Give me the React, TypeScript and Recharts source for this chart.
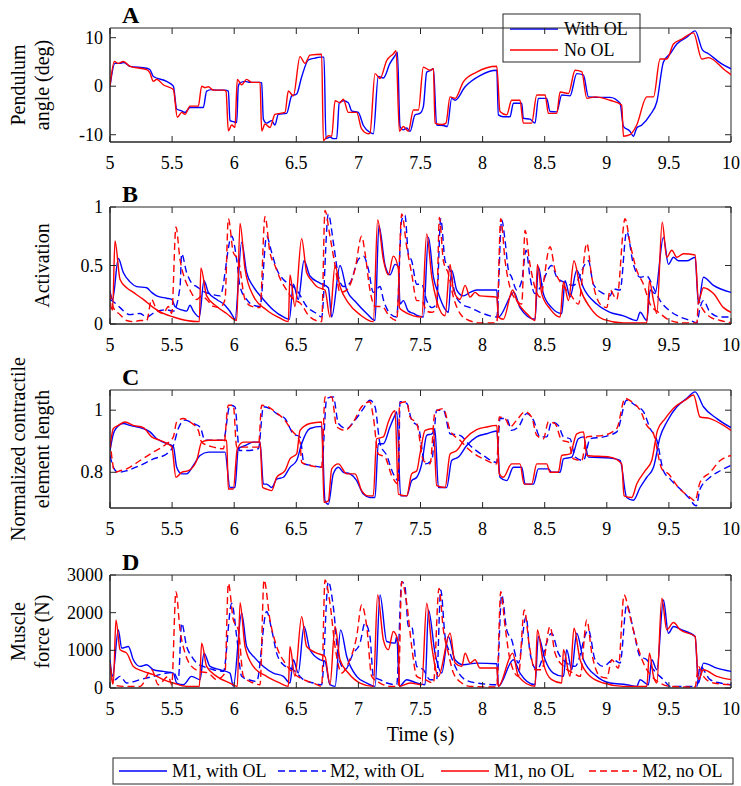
import { LineChart, Line, XAxis, YAxis, ReferenceArea, Customized } from "recharts";

// time is in seconds; every panel shares the 5..10 s window
const timeTicks = [5, 5.5, 6, 6.5, 7, 7.5, 8, 8.5, 9, 9.5, 10];
const angleTicks = [-10, 0, 10];
const actTicks = [0, 0.5, 1];
const lenTicks = [0.8, 1];
const forceTicks = [0, 1000, 2000, 3000];

// A: pendulum angle (deg)
const angleWithOL = [
  [5.0, 0], [5.04, 4.7], [5.081, 4.7], [5.113, 4.9], [5.161, 4.1], [5.295, 3.7], [5.322, 3.4], [5.349, 2.0], [5.456, 1.0], [5.51, 0],
  [5.537, -4.7], [5.577, -5.1], [5.604, -5.4], [5.644, -4.4], [5.751, -4.4], [5.778, -1.0], [5.819, -0.7], [5.859, -0.8], [5.926, -0.8], [5.953, -1.0],
  [5.966, -7.1], [5.993, -7.3], [6.02, -7.5], [6.033, 0], [6.047, 0.7], [6.087, 1.0], [6.127, 0.8], [6.208, 0.8], [6.221, 0.7], [6.235, -6.8],
  [6.261, -7.6], [6.302, -7.1], [6.328, -8.0], [6.355, -5.8], [6.422, -5.6], [6.463, -2.0], [6.503, -1.6], [6.543, 1.9], [6.597, 5.4], [6.651, 5.8],
  [6.691, 6.0], [6.723, 6.0], [6.739, -10.8], [6.771, -10.5], [6.798, -10.8], [6.825, -10.8], [6.846, -3.4], [6.879, -3.0], [6.919, -3.4], [6.946, -5.1],
  [6.999, -5.4], [7.04, -8.1], [7.093, -9.5], [7.12, -9.8], [7.16, 2.0], [7.201, 1.7], [7.254, 4.7], [7.295, 6.3], [7.314, 7.0], [7.335, -8.3],
  [7.362, -9.0], [7.389, -8.6], [7.416, -9.3], [7.456, -5.9], [7.496, -5.6], [7.523, -4.2], [7.55, 2.9], [7.577, 3.2], [7.604, 3.6], [7.63, -8.0],
  [7.684, -8.1], [7.716, -8.3], [7.751, -2.5], [7.778, -2.9], [7.859, -0.1], [7.979, 2.2], [8.114, 3.3], [8.127, -5.9], [8.167, -6.3], [8.221, -6.3],
  [8.248, -3.5], [8.315, -3.5], [8.328, -6.6], [8.382, -6.8], [8.422, -7.6], [8.449, -2.5], [8.516, -2.5], [8.543, -5.2], [8.597, -5.3], [8.637, -1.8],
  [8.704, -2.0], [8.758, 2.6], [8.812, 2.3], [8.852, -2.2], [8.919, -2.3], [9.026, -2.3], [9.107, -3.5], [9.134, -8.3], [9.187, -9.3], [9.214, -10.3],
  [9.241, -8.6], [9.282, -8.0], [9.349, -5.9], [9.403, -3.2], [9.456, 5.0], [9.51, 6.7], [9.564, 8.7], [9.644, 10.1], [9.711, 11.4], [9.77, 7.5],
  [9.818, 6.7], [9.925, 4.6], [10, 3.6],
];
const angleNoOL = [
  [5.0, 0], [5.035, 5.1], [5.067, 4.7], [5.107, 5.1], [5.161, 4.1], [5.295, 3.4], [5.322, 2.7], [5.349, 1.0], [5.376, 1.4], [5.429, 0.3],
  [5.51, -0.7], [5.542, -6.4], [5.577, -5.4], [5.604, -5.8], [5.644, -4.1], [5.711, -4.1], [5.738, 0], [5.765, -0.3], [5.792, -0.1], [5.832, -0.8],
  [5.913, -0.8], [5.934, -1.0], [5.953, -9.2], [5.98, -8.0], [6.006, -8.5], [6.025, 1.4], [6.06, 0.3], [6.1, 1.4], [6.141, 0.8], [6.208, 0.8],
  [6.221, -9.2], [6.248, -7.8], [6.288, -8.5], [6.328, -5.8], [6.409, -5.4], [6.436, -1.0], [6.476, -2.0], [6.53, 6.1], [6.57, 4.7], [6.61, 6.4],
  [6.704, 6.6], [6.718, -11.2], [6.758, -10.2], [6.785, -10.3], [6.812, -3.0], [6.852, -3.4], [6.879, -2.7], [6.919, -5.4], [6.986, -5.4], [7.026, -8.8],
  [7.08, -9.8], [7.093, -9.7], [7.134, 2.6], [7.174, 1.6], [7.228, 5.3], [7.282, 6.7], [7.303, 7.3], [7.33, -9.3], [7.362, -8.3], [7.402, -9.3],
  [7.443, -4.9], [7.483, -4.9], [7.523, 3.9], [7.577, 3.3], [7.604, 3.6], [7.617, -7.6], [7.671, -7.9], [7.705, -7.6], [7.738, -2.2], [7.778, -2.5],
  [7.845, 0.9], [7.952, 2.9], [8.114, 4.1], [8.14, -5.2], [8.194, -5.9], [8.234, -2.9], [8.301, -2.9], [8.328, -7.6], [8.395, -7.6], [8.436, -1.8],
  [8.503, -1.8], [8.53, -5.6], [8.597, -5.6], [8.624, -1.2], [8.691, -1.5], [8.745, 3.3], [8.798, 3.0], [8.839, -2.5], [8.906, -2.2], [9.026, -2.9],
  [9.12, -3.9], [9.134, -10.3], [9.187, -10.0], [9.241, -8.0], [9.322, -2.2], [9.376, -2.2], [9.429, 5.6], [9.483, 5.6], [9.537, 8.7], [9.604, 9.7],
  [9.698, 11.0], [9.765, 5.6], [9.818, 5.9], [9.952, 3.3], [10, 2.4],
];

// B: activation
const actM1WithOL = [
  [5.0, 0.28], [5.021, 0.21], [5.067, 0.56], [5.107, 0.44], [5.161, 0.36], [5.215, 0.32], [5.295, 0.31], [5.335, 0.27], [5.376, 0.24], [5.456, 0.22],
  [5.497, 0.21], [5.523, 0.15], [5.577, 0.12], [5.617, 0.11], [5.644, 0.16], [5.671, 0.11], [5.719, 0.06], [5.757, 0.37], [5.792, 0.27], [5.859, 0.21],
  [5.926, 0.16], [5.993, 0.06], [6.006, 0.03], [6.06, 0.7], [6.1, 0.44], [6.154, 0.32], [6.235, 0.21], [6.315, 0.12], [6.396, 0.06], [6.444, 0.04],
  [6.476, 0.34], [6.516, 0.21], [6.562, 0.54], [6.61, 0.41], [6.691, 0.35], [6.758, 0.31], [6.785, 0.06], [6.852, 0.5], [6.906, 0.29], [6.986, 0.18],
  [7.067, 0.09], [7.134, 0.03], [7.165, 0.84], [7.215, 0.5], [7.255, 0.42], [7.295, 0.51], [7.322, 0.49], [7.335, 0.17], [7.362, 0.2], [7.402, 0.11],
  [7.443, 0.09], [7.483, 0.07], [7.523, 0.06], [7.564, 0.74], [7.604, 0.4], [7.644, 0.26], [7.69, 0.14], [7.724, 0.1], [7.751, 0.46], [7.792, 0.29],
  [7.845, 0.24], [7.899, 0.27], [7.952, 0.29], [8.114, 0.29], [8.127, 0.06], [8.253, 0.27], [8.301, 0.14], [8.422, 0.04], [8.449, 0.49], [8.489, 0.26],
  [8.556, 0.14], [8.637, 0.09], [8.664, 0.37], [8.704, 0.23], [8.758, 0.46], [8.812, 0.31], [8.919, 0.17], [9.026, 0.1], [9.134, 0.07], [9.241, 0.03],
  [9.268, 0.1], [9.322, 0.03], [9.349, 0.29], [9.389, 0.26], [9.456, 0.74], [9.496, 0.51], [9.537, 0.57], [9.577, 0.54], [9.644, 0.54], [9.711, 0.57],
  [9.738, 0.17], [9.778, 0.4], [9.859, 0.33], [10, 0.27],
];
const actM2WithOL = [
  [5.0, 0.21], [5.04, 0.18], [5.081, 0.14], [5.161, 0.08], [5.242, 0.09], [5.295, 0.06], [5.376, 0.11], [5.456, 0.12], [5.51, 0.11], [5.564, 0.32],
  [5.577, 0.6], [5.617, 0.44], [5.657, 0.35], [5.698, 0.32], [5.751, 0.28], [5.832, 0.25], [5.886, 0.24], [5.98, 0.75], [6.02, 0.55], [6.047, 0.32],
  [6.1, 0.21], [6.154, 0.16], [6.208, 0.15], [6.261, 0.75], [6.302, 0.61], [6.342, 0.47], [6.396, 0.38], [6.476, 0.32], [6.516, 0.27], [6.583, 0.15],
  [6.664, 0.09], [6.704, 0.06], [6.758, 0.94], [6.798, 0.7], [6.839, 0.41], [6.879, 0.32], [6.932, 0.35], [6.999, 0.55], [7.04, 0.58], [7.08, 0.47],
  [7.12, 0.27], [7.174, 0.32], [7.201, 0.21], [7.254, 0.09], [7.308, 0.06], [7.349, 0.89], [7.375, 0.93], [7.402, 0.6], [7.429, 0.54], [7.47, 0.34],
  [7.51, 0.34], [7.55, 0.2], [7.591, 0.14], [7.63, 0.17], [7.663, 0.9], [7.698, 0.54], [7.738, 0.46], [7.778, 0.26], [7.832, 0.17], [7.899, 0.14],
  [7.979, 0.1], [8.06, 0.07], [8.114, 0.06], [8.154, 0.89], [8.181, 0.71], [8.208, 0.46], [8.234, 0.4], [8.275, 0.29], [8.315, 0.37], [8.35, 0.63],
  [8.382, 0.4], [8.422, 0.26], [8.463, 0.31], [8.556, 0.5], [8.597, 0.4], [8.651, 0.36], [8.731, 0.33], [8.852, 0.54], [8.892, 0.34], [8.973, 0.26],
  [9.026, 0.24], [9.053, 0.3], [9.107, 0.29], [9.16, 0.79], [9.214, 0.51], [9.268, 0.4], [9.322, 0.41], [9.376, 0.31], [9.429, 0.2], [9.51, 0.11],
  [9.591, 0.06], [9.671, 0.03], [9.725, 0.01], [9.751, 0.14], [9.778, 0.2], [9.832, 0.1], [9.913, 0.06], [10, 0.06],
];
const actM1NoOL = [
  [5.0, 0.18], [5.021, 0.12], [5.04, 0.71], [5.081, 0.38], [5.134, 0.31], [5.188, 0.27], [5.268, 0.21], [5.349, 0.14], [5.429, 0.09], [5.51, 0.06],
  [5.617, 0.03], [5.719, 0.02], [5.732, 0.48], [5.778, 0.24], [5.859, 0.15], [5.939, 0.09], [6.02, 0.03], [6.047, 0.86], [6.087, 0.47], [6.154, 0.24],
  [6.261, 0.12], [6.369, 0.05], [6.436, 0.02], [6.449, 0.42], [6.489, 0.15], [6.543, 0.73], [6.583, 0.44], [6.624, 0.37], [6.664, 0.32], [6.731, 0.29],
  [6.771, 0.06], [6.812, 0.5], [6.852, 0.32], [6.919, 0.18], [7.013, 0.08], [7.12, 0.02], [7.155, 0.89], [7.201, 0.55], [7.241, 0.42], [7.281, 0.58],
  [7.322, 0.47], [7.33, 0.14], [7.362, 0.11], [7.443, 0.07], [7.51, 0.06], [7.55, 0.77], [7.591, 0.4], [7.63, 0.2], [7.698, 0.07], [7.738, 0.51],
  [7.765, 0.29], [7.818, 0.21], [7.859, 0.33], [7.899, 0.23], [7.939, 0.27], [7.979, 0.24], [8.114, 0.23], [8.127, 0.06], [8.167, 0.04], [8.242, 0.29],
  [8.275, 0.2], [8.355, 0.09], [8.422, 0.03], [8.441, 0.51], [8.476, 0.26], [8.543, 0.13], [8.624, 0.06], [8.651, 0.36], [8.691, 0.2], [8.736, 0.54],
  [8.785, 0.31], [8.866, 0.14], [8.973, 0.04], [9.134, 0.01], [9.322, 0.01], [9.343, 0.37], [9.376, 0.2], [9.403, 0.09], [9.446, 0.87], [9.483, 0.57],
  [9.523, 0.63], [9.564, 0.57], [9.617, 0.6], [9.711, 0.59], [9.738, 0.2], [9.778, 0.31], [9.859, 0.26], [9.94, 0.14], [10, 0.1],
];
const actM2NoOL = [
  [5.0, 0.27], [5.027, 0.14], [5.081, 0.08], [5.134, 0.03], [5.188, 0.02], [5.242, 0.03], [5.295, 0.03], [5.335, 0.21], [5.376, 0.12], [5.429, 0.09],
  [5.47, 0.15], [5.497, 0.09], [5.531, 0.83], [5.564, 0.55], [5.604, 0.38], [5.644, 0.29], [5.698, 0.21], [5.738, 0.24], [5.778, 0.21], [5.832, 0.15],
  [5.886, 0.14], [5.926, 0.21], [5.953, 0.9], [5.993, 0.61], [6.033, 0.55], [6.087, 0.21], [6.141, 0.15], [6.208, 0.14], [6.248, 0.92], [6.288, 0.61],
  [6.328, 0.5], [6.369, 0.39], [6.422, 0.29], [6.476, 0.21], [6.53, 0.18], [6.61, 0.06], [6.704, 0.02], [6.731, 0.97], [6.771, 0.75], [6.812, 0.5],
  [6.852, 0.27], [6.906, 0.29], [6.973, 0.47], [7.026, 0.75], [7.053, 0.61], [7.093, 0.29], [7.134, 0.15], [7.188, 0.15], [7.254, 0.06], [7.308, 0.03],
  [7.349, 0.94], [7.389, 0.66], [7.429, 0.43], [7.47, 0.2], [7.51, 0.2], [7.55, 0.11], [7.591, 0.1], [7.63, 0.14], [7.652, 0.91], [7.684, 0.54],
  [7.724, 0.43], [7.765, 0.23], [7.818, 0.09], [7.872, 0.04], [7.979, 0.01], [8.114, 0.01], [8.146, 0.9], [8.181, 0.54], [8.221, 0.31], [8.275, 0.2],
  [8.315, 0.17], [8.342, 0.8], [8.377, 0.54], [8.422, 0.31], [8.463, 0.23], [8.543, 0.66], [8.583, 0.46], [8.637, 0.34], [8.704, 0.26], [8.771, 0.17],
  [8.839, 0.69], [8.879, 0.4], [8.946, 0.17], [9.0, 0.14], [9.026, 0.29], [9.08, 0.21], [9.147, 0.9], [9.187, 0.69], [9.241, 0.46], [9.295, 0.34],
  [9.349, 0.17], [9.429, 0.09], [9.51, 0.03], [9.617, 0.01], [9.725, 0.01], [9.738, 0.2], [9.765, 0.14], [9.832, 0.06], [9.913, 0.03], [10, 0.01],
];

// C: normalized contractile element length
const lenM1WithOL = [
  [5.0, 0.87], [5.027, 0.924], [5.054, 0.944], [5.107, 0.957], [5.161, 0.951], [5.242, 0.944], [5.322, 0.93], [5.376, 0.908], [5.429, 0.897], [5.51, 0.883],
  [5.537, 0.816], [5.577, 0.795], [5.617, 0.795], [5.671, 0.822], [5.725, 0.854], [5.792, 0.865], [5.926, 0.865], [5.966, 0.751], [6.006, 0.751], [6.033, 0.876],
  [6.087, 0.886], [6.154, 0.897], [6.208, 0.897], [6.235, 0.762], [6.261, 0.762], [6.302, 0.751], [6.342, 0.778], [6.396, 0.784], [6.449, 0.816], [6.503, 0.838],
  [6.543, 0.892], [6.61, 0.941], [6.704, 0.948], [6.731, 0.708], [6.758, 0.697], [6.798, 0.795], [6.839, 0.816], [6.879, 0.8], [6.932, 0.795], [6.986, 0.773],
  [7.04, 0.73], [7.093, 0.719], [7.134, 0.719], [7.16, 0.892], [7.201, 0.892], [7.254, 0.946], [7.295, 0.984], [7.309, 0.995], [7.34, 0.724], [7.389, 0.724],
  [7.429, 0.773], [7.47, 0.784], [7.51, 0.827], [7.55, 0.919], [7.591, 0.924], [7.617, 0.935], [7.644, 0.751], [7.711, 0.751], [7.751, 0.838], [7.805, 0.849],
  [7.872, 0.886], [7.952, 0.914], [8.033, 0.924], [8.114, 0.933], [8.14, 0.784], [8.194, 0.773], [8.248, 0.816], [8.315, 0.816], [8.342, 0.762], [8.409, 0.762],
  [8.449, 0.811], [8.53, 0.811], [8.556, 0.8], [8.624, 0.8], [8.651, 0.843], [8.718, 0.849], [8.771, 0.908], [8.812, 0.914], [8.852, 0.849], [9.026, 0.846],
  [9.107, 0.838], [9.16, 0.719], [9.214, 0.71], [9.268, 0.751], [9.322, 0.784], [9.376, 0.816], [9.429, 0.914], [9.483, 0.962], [9.564, 1.011], [9.644, 1.038],
  [9.711, 1.059], [9.778, 1.011], [9.886, 0.973], [10, 0.944],
];
const lenM2WithOL = [
  [5.0, 0.854], [5.027, 0.816], [5.067, 0.8], [5.134, 0.805], [5.242, 0.822], [5.349, 0.843], [5.456, 0.859], [5.51, 0.886], [5.55, 0.941], [5.604, 0.968],
  [5.671, 0.957], [5.725, 0.946], [5.765, 0.903], [5.832, 0.903], [5.913, 0.903], [5.966, 1.016], [6.006, 1.011], [6.042, 0.87], [6.1, 0.87], [6.195, 0.876],
  [6.235, 1.011], [6.288, 1.005], [6.342, 0.989], [6.409, 0.973], [6.476, 0.924], [6.53, 0.914], [6.562, 0.827], [6.624, 0.822], [6.704, 0.816], [6.745, 1.038],
  [6.798, 1.043], [6.839, 0.957], [6.906, 0.941], [6.973, 0.968], [7.04, 1.005], [7.093, 1.032], [7.134, 1.011], [7.174, 0.892], [7.228, 0.854], [7.281, 0.795],
  [7.322, 0.773], [7.335, 1.027], [7.389, 1.022], [7.429, 0.968], [7.483, 0.946], [7.537, 0.827], [7.591, 0.838], [7.63, 1.0], [7.684, 1.0], [7.738, 0.924],
  [7.818, 0.919], [7.899, 0.886], [8.006, 0.854], [8.114, 0.832], [8.14, 0.973], [8.194, 0.973], [8.234, 0.935], [8.288, 0.946], [8.355, 0.989], [8.409, 0.968],
  [8.463, 0.914], [8.516, 0.914], [8.556, 0.962], [8.61, 0.951], [8.651, 0.914], [8.704, 0.908], [8.745, 0.849], [8.812, 0.838], [8.866, 0.908], [8.973, 0.914],
  [9.08, 0.93], [9.16, 1.032], [9.228, 1.016], [9.295, 0.995], [9.349, 0.941], [9.403, 0.903], [9.456, 0.805], [9.51, 0.778], [9.591, 0.746], [9.658, 0.719],
  [9.72, 0.692], [9.751, 0.746], [9.832, 0.784], [9.913, 0.805], [10, 0.822],
];
const lenM1NoOL = [
  [5.0, 0.881], [5.027, 0.941], [5.067, 0.951], [5.121, 0.962], [5.188, 0.951], [5.268, 0.944], [5.335, 0.914], [5.403, 0.903], [5.497, 0.883], [5.531, 0.784],
  [5.577, 0.8], [5.631, 0.805], [5.698, 0.838], [5.738, 0.897], [5.792, 0.903], [5.939, 0.903], [5.953, 0.746], [5.993, 0.746], [6.025, 0.876], [6.074, 0.897],
  [6.208, 0.897], [6.229, 0.751], [6.261, 0.746], [6.302, 0.741], [6.342, 0.784], [6.409, 0.805], [6.449, 0.843], [6.503, 0.859], [6.53, 0.935], [6.61, 0.957],
  [6.704, 0.962], [6.723, 0.703], [6.758, 0.708], [6.785, 0.811], [6.839, 0.827], [6.906, 0.795], [6.973, 0.795], [7.026, 0.741], [7.08, 0.724], [7.12, 0.724],
  [7.147, 0.908], [7.201, 0.914], [7.241, 0.962], [7.281, 0.995], [7.295, 0.998], [7.322, 0.73], [7.389, 0.724], [7.429, 0.795], [7.47, 0.805], [7.496, 0.859],
  [7.537, 0.935], [7.604, 0.941], [7.63, 0.757], [7.698, 0.751], [7.738, 0.859], [7.792, 0.87], [7.859, 0.908], [7.952, 0.937], [8.033, 0.946], [8.114, 0.951],
  [8.134, 0.795], [8.167, 0.784], [8.234, 0.827], [8.301, 0.827], [8.334, 0.762], [8.395, 0.762], [8.436, 0.827], [8.516, 0.827], [8.543, 0.8], [8.61, 0.8],
  [8.637, 0.854], [8.704, 0.859], [8.758, 0.924], [8.812, 0.93], [8.839, 0.854], [9.026, 0.849], [9.12, 0.827], [9.139, 0.724], [9.201, 0.719], [9.241, 0.762],
  [9.309, 0.805], [9.362, 0.838], [9.408, 0.935], [9.47, 0.973], [9.55, 1.011], [9.631, 1.032], [9.698, 1.049], [9.751, 0.978], [9.832, 0.973], [9.94, 0.951],
  [10, 0.935],
];
const lenM2NoOL = [
  [5.0, 0.903], [5.04, 0.8], [5.081, 0.805], [5.134, 0.811], [5.242, 0.838], [5.349, 0.865], [5.456, 0.892], [5.51, 0.914], [5.537, 0.962], [5.59, 0.973],
  [5.644, 0.962], [5.711, 0.935], [5.738, 0.897], [5.832, 0.881], [5.913, 0.876], [5.953, 1.016], [5.993, 1.016], [6.02, 0.881], [6.1, 0.881], [6.195, 0.881],
  [6.221, 1.016], [6.275, 1.011], [6.328, 0.995], [6.396, 0.973], [6.463, 0.935], [6.53, 0.897], [6.543, 0.832], [6.61, 0.822], [6.704, 0.816], [6.731, 1.043],
  [6.785, 1.043], [6.825, 0.946], [6.892, 0.935], [6.959, 0.962], [7.026, 1.011], [7.093, 1.027], [7.12, 0.978], [7.16, 0.859], [7.214, 0.849], [7.268, 0.789],
  [7.322, 0.762], [7.33, 1.022], [7.389, 1.027], [7.416, 0.978], [7.47, 0.957], [7.523, 0.838], [7.577, 0.827], [7.617, 0.995], [7.684, 1.005], [7.738, 0.935],
  [7.818, 0.903], [7.899, 0.87], [8.006, 0.843], [8.114, 0.827], [8.134, 0.978], [8.181, 0.973], [8.221, 0.946], [8.275, 0.968], [8.342, 0.995], [8.395, 0.978],
  [8.436, 0.919], [8.489, 0.908], [8.53, 0.962], [8.583, 0.957], [8.637, 0.903], [8.691, 0.897], [8.731, 0.843], [8.798, 0.838], [8.839, 0.914], [8.973, 0.919],
  [9.08, 0.941], [9.147, 1.038], [9.201, 1.027], [9.268, 1.0], [9.322, 0.951], [9.376, 0.924], [9.443, 0.811], [9.496, 0.795], [9.577, 0.751], [9.671, 0.719],
  [9.711, 0.708], [9.751, 0.768], [9.832, 0.8], [9.913, 0.838], [10, 0.854],
];

// D: muscle force (N)
const forceM1WithOL = [
  [5.0, 750], [5.021, 309], [5.067, 1544], [5.094, 1058], [5.148, 1103], [5.188, 750], [5.242, 573], [5.295, 617], [5.349, 485], [5.429, 441],
  [5.51, 397], [5.537, 132], [5.59, 88], [5.657, 309], [5.725, 221], [5.757, 926], [5.805, 573], [5.886, 485], [5.966, 397], [5.993, 44],
  [6.06, 1985], [6.1, 1103], [6.168, 794], [6.235, 573], [6.315, 397], [6.396, 309], [6.449, 132], [6.476, 750], [6.516, 397], [6.562, 1632],
  [6.61, 1014], [6.691, 750], [6.731, 706], [6.771, 88], [6.812, 44], [6.857, 1544], [6.906, 838], [6.986, 309], [7.067, 132], [7.134, 44],
  [7.174, 2470], [7.228, 1235], [7.295, 1191], [7.309, 1367], [7.33, 44], [7.389, 221], [7.47, 132], [7.537, 88], [7.564, 2073], [7.617, 926],
  [7.671, 397], [7.724, 1367], [7.778, 750], [7.845, 617], [7.952, 661], [8.114, 644], [8.127, 44], [8.248, 750], [8.301, 397], [8.422, 88],
  [8.449, 1367], [8.503, 750], [8.57, 397], [8.651, 309], [8.677, 1014], [8.718, 485], [8.758, 1455], [8.812, 750], [8.919, 309], [9.026, 132],
  [9.16, 88], [9.241, 44], [9.268, 221], [9.335, 88], [9.362, 750], [9.403, 485], [9.456, 2337], [9.496, 1455], [9.537, 1632], [9.604, 1544],
  [9.711, 1367], [9.738, 132], [9.778, 661], [9.886, 529], [10, 441],
];
const forceM2WithOL = [
  [5.0, 485], [5.04, 221], [5.081, 309], [5.134, 132], [5.242, 221], [5.349, 309], [5.456, 397], [5.51, 415], [5.55, 221], [5.577, 1720],
  [5.617, 1103], [5.657, 838], [5.698, 662], [5.751, 573], [5.832, 485], [5.913, 441], [5.98, 2249], [6.02, 1367], [6.06, 309], [6.114, 221],
  [6.181, 176], [6.261, 2029], [6.302, 1544], [6.342, 926], [6.396, 617], [6.476, 485], [6.557, 221], [6.637, 132], [6.704, 88], [6.758, 2823],
  [6.798, 2161], [6.839, 838], [6.892, 485], [6.959, 926], [7.013, 1191], [7.053, 1720], [7.093, 1367], [7.12, 309], [7.174, 221], [7.228, 132],
  [7.308, 88], [7.349, 2823], [7.375, 2690], [7.402, 1632], [7.429, 1632], [7.47, 573], [7.523, 485], [7.577, 221], [7.63, 221], [7.663, 2602],
  [7.698, 1367], [7.738, 926], [7.792, 485], [7.859, 221], [7.952, 132], [8.114, 88], [8.154, 2470], [8.194, 1544], [8.234, 1279], [8.288, 662],
  [8.35, 1896], [8.382, 926], [8.436, 485], [8.556, 1455], [8.61, 926], [8.677, 662], [8.745, 573], [8.852, 1544], [8.906, 750], [8.973, 573],
  [9.053, 750], [9.107, 662], [9.16, 2205], [9.214, 1544], [9.268, 838], [9.322, 750], [9.376, 485], [9.456, 221], [9.51, 44], [9.725, 44],
  [9.751, 573], [9.832, 221], [9.913, 132], [10, 88],
];
const forceM1NoOL = [
  [5.0, 662], [5.027, 132], [5.048, 1808], [5.081, 1014], [5.134, 926], [5.188, 573], [5.268, 441], [5.349, 353], [5.429, 221], [5.51, 132],
  [5.617, 44], [5.719, 44], [5.738, 1191], [5.778, 573], [5.859, 309], [5.966, 132], [6.025, 44], [6.047, 2267], [6.087, 1103], [6.154, 573],
  [6.261, 309], [6.369, 132], [6.436, 44], [6.449, 1103], [6.489, 309], [6.543, 1896], [6.583, 1103], [6.664, 926], [6.731, 838], [6.771, 88],
  [6.812, 1632], [6.852, 750], [6.919, 397], [7.013, 132], [7.12, 44], [7.155, 2470], [7.201, 1279], [7.241, 1014], [7.281, 1499], [7.322, 1191],
  [7.33, 44], [7.416, 132], [7.51, 88], [7.55, 2249], [7.591, 1103], [7.644, 309], [7.738, 1455], [7.778, 662], [7.832, 573], [7.859, 926],
  [7.899, 662], [7.939, 750], [7.979, 529], [8.114, 529], [8.127, 44], [8.242, 926], [8.288, 309], [8.422, 44], [8.441, 1544], [8.489, 662],
  [8.556, 221], [8.637, 132], [8.651, 1014], [8.704, 309], [8.736, 1588], [8.785, 750], [8.866, 309], [8.973, 132], [9.134, 44], [9.322, 44],
  [9.343, 926], [9.376, 309], [9.403, 132], [9.443, 2381], [9.483, 1544], [9.537, 1738], [9.591, 1544], [9.711, 1367], [9.738, 221], [9.778, 485],
  [9.886, 309], [10, 221],
];
const forceM2NoOL = [
  [5.0, 573], [5.027, 88], [5.107, 44], [5.242, 44], [5.335, 485], [5.389, 88], [5.47, 309], [5.497, 88], [5.531, 2558], [5.564, 1544],
  [5.604, 926], [5.657, 573], [5.725, 441], [5.792, 397], [5.859, 221], [5.926, 397], [5.953, 2778], [5.993, 1808], [6.033, 1544], [6.074, 309],
  [6.154, 132], [6.208, 88], [6.24, 2866], [6.288, 1808], [6.342, 1103], [6.409, 662], [6.476, 397], [6.557, 221], [6.637, 132], [6.704, 44],
  [6.731, 2866], [6.771, 2249], [6.812, 1103], [6.865, 397], [6.919, 662], [6.986, 1367], [7.026, 2205], [7.067, 1632], [7.107, 309], [7.174, 132],
  [7.254, 44], [7.322, 44], [7.349, 2823], [7.389, 2249], [7.429, 1103], [7.47, 309], [7.537, 221], [7.604, 132], [7.649, 2646], [7.684, 1544],
  [7.724, 926], [7.765, 397], [7.832, 132], [7.899, 44], [8.114, 26], [8.146, 2558], [8.181, 1632], [8.221, 750], [8.288, 309], [8.336, 2073],
  [8.377, 1103], [8.422, 485], [8.476, 485], [8.543, 1632], [8.583, 926], [8.651, 573], [8.731, 397], [8.785, 309], [8.839, 1808], [8.879, 926],
  [8.946, 309], [9.0, 265], [9.04, 750], [9.093, 529], [9.139, 2470], [9.187, 1896], [9.241, 1191], [9.295, 662], [9.362, 309], [9.429, 132],
  [9.51, 44], [9.711, 26], [9.738, 573], [9.778, 309], [9.859, 132], [10, 88],
];

const BLUE = "#0000ff";
const RED = "#ff0000";
const AXIS = "#262626";
const SERIF = "'Liberation Serif', 'Times New Roman', Times, serif";
const W = 741;
const H = 786;
const PLOT_L = 110;
const PLOT_R = 731;
const DASH = "7 4";
const txt = { fontFamily: SERIF } as const;

const pts = (a: number[][]) => a.map(([t, v]) => ({ t, v }));

type Series = { data: number[][]; color: string; dashed?: boolean };

function XTick({ x, y, payload, plotTop }: any) {
  return (
    <g>
      <line x1={x} x2={x} y1={y} y2={y - 6} stroke={AXIS} />
      <line x1={x} x2={x} y1={plotTop} y2={plotTop + 6} stroke={AXIS} />
      <text x={x} y={y + 27} textAnchor="middle" fontSize={18} style={txt} fill="#000">
        {payload.value}
      </text>
    </g>
  );
}

function YTick({ x, y, payload }: any) {
  return (
    <g>
      <line x1={x} x2={x + 6} y1={y} y2={y} stroke={AXIS} />
      <line x1={PLOT_R - 6} x2={PLOT_R} y1={y} y2={y} stroke={AXIS} />
      <text x={x - 7} y={y + 6} textAnchor="end" fontSize={18} style={txt} fill="#000">
        {payload.value}
      </text>
    </g>
  );
}

function LegendLine({ x, y, color, dashed }: { x: number; y: number; color: string; dashed?: boolean }) {
  return <line x1={x} x2={x + 48} y1={y} y2={y} stroke={color} strokeWidth={1.4} strokeDasharray={dashed ? DASH : undefined} />;
}

interface PanelProps {
  plotTop: number;
  plotBottom: number;
  domain: [number, number];
  yTicks: number[];
  letter: string;
  yLabel: string[];
  series: Series[];
  extra?: React.ReactNode;
}

function Panel({ plotTop, plotBottom, domain, yTicks, letter, yLabel, series, extra }: PanelProps) {
  const mid = (plotTop + plotBottom) / 2;
  const labelX = yLabel.length === 2 ? [18, 42] : [42];
  return (
    <div style={{ position: "absolute", left: 0, top: 0, width: W, height: H }}>
      <LineChart width={W} height={H} margin={{ top: plotTop, right: W - PLOT_R, bottom: H - plotBottom - 30, left: 0 }}>
        <XAxis
          dataKey="t"
          type="number"
          domain={[5, 10]}
          ticks={timeTicks}
          interval={0}
          height={30}
          tickSize={0}
          tickMargin={0}
          axisLine={{ stroke: AXIS }}
          tick={(p: any) => <XTick {...p} plotTop={plotTop} />}
          allowDataOverflow
        />
        <YAxis
          type="number"
          domain={domain}
          ticks={yTicks}
          interval={0}
          width={PLOT_L}
          tickSize={0}
          tickMargin={0}
          axisLine={{ stroke: AXIS }}
          tick={(p: any) => <YTick {...p} />}
          allowDataOverflow
        />
        <ReferenceArea x1={5} x2={10} y1={domain[0]} y2={domain[1]} fill="none" stroke={AXIS} strokeWidth={1} />
        {series.map((s, i) => (
          <Line
            key={i}
            data={pts(s.data)}
            dataKey="v"
            type="monotoneX"
            stroke={s.color}
            strokeWidth={1.4}
            strokeDasharray={s.dashed ? DASH : undefined}
            dot={false}
            activeDot={false}
            isAnimationActive={false}
          />
        ))}
        <Customized
          component={() => (
            <g style={txt} fill="#000">
              <text x={122} y={plotTop - 5} fontSize={24} fontWeight="bold" style={txt}>
                {letter}
              </text>
              {yLabel.map((line, i) => (
                <text
                  key={i}
                  x={labelX[i]}
                  y={mid}
                  fontSize={20}
                  style={txt}
                  textAnchor="middle"
                  dominantBaseline="central"
                  transform={`rotate(-90 ${labelX[i]} ${mid})`}
                >
                  {line}
                </text>
              ))}
              {extra}
            </g>
          )}
        />
      </LineChart>
    </div>
  );
}

const angleLegend = (
  <g style={txt}>
    <rect x={503} y={14} width={137} height={48} fill="#fff" stroke={AXIS} />
    <LegendLine x={510} y={29} color={BLUE} />
    <text x={564} y={35} fontSize={18}>With OL</text>
    <LegendLine x={510} y={50} color={RED} />
    <text x={564} y={56} fontSize={18}>No OL</text>
  </g>
);

const bottomLegend = (
  <g style={txt}>
    <text x={(PLOT_L + PLOT_R) / 2} y={741} fontSize={20} textAnchor="middle">Time (s)</text>
    <rect x={113} y={758} width={620} height={26} fill="#fff" stroke={AXIS} />
    <LegendLine x={119} y={771} color={BLUE} />
    <text x={172} y={777} fontSize={18}>M1, with OL</text>
    <LegendLine x={278} y={771} color={BLUE} dashed />
    <text x={330} y={777} fontSize={18}>M2, with OL</text>
    <LegendLine x={441} y={771} color={RED} />
    <text x={494} y={777} fontSize={18}>M1, no OL</text>
    <LegendLine x={589} y={771} color={RED} dashed />
    <text x={642} y={777} fontSize={18}>M2, no OL</text>
  </g>
);

export default function App() {
  return (
    <div style={{ position: "absolute", left: 0, top: 0, width: W, height: H, background: "#fff" }}>
      <Panel
        plotTop={28}
        plotBottom={142}
        domain={[-11.5, 12]}
        yTicks={angleTicks}
        letter="A"
        yLabel={["Pendulum", "angle (deg)"]}
        series={[
          { data: angleWithOL, color: BLUE },
          { data: angleNoOL, color: RED },
        ]}
        extra={angleLegend}
      />
      <Panel
        plotTop={207}
        plotBottom={324}
        domain={[0, 1]}
        yTicks={actTicks}
        letter="B"
        yLabel={["Activation"]}
        series={[
          { data: actM1WithOL, color: BLUE },
          { data: actM2WithOL, color: BLUE, dashed: true },
          { data: actM1NoOL, color: RED },
          { data: actM2NoOL, color: RED, dashed: true },
        ]}
      />
      <Panel
        plotTop={390}
        plotBottom={508}
        domain={[0.685, 1.065]}
        yTicks={lenTicks}
        letter="C"
        yLabel={["Normalized contractile", "element length"]}
        series={[
          { data: lenM1WithOL, color: BLUE },
          { data: lenM2WithOL, color: BLUE, dashed: true },
          { data: lenM1NoOL, color: RED },
          { data: lenM2NoOL, color: RED, dashed: true },
        ]}
      />
      <Panel
        plotTop={575}
        plotBottom={688}
        domain={[0, 3000]}
        yTicks={forceTicks}
        letter="D"
        yLabel={["Muscle", "force (N)"]}
        series={[
          { data: forceM1WithOL, color: BLUE },
          { data: forceM2WithOL, color: BLUE, dashed: true },
          { data: forceM1NoOL, color: RED },
          { data: forceM2NoOL, color: RED, dashed: true },
        ]}
        extra={bottomLegend}
      />
    </div>
  );
}
